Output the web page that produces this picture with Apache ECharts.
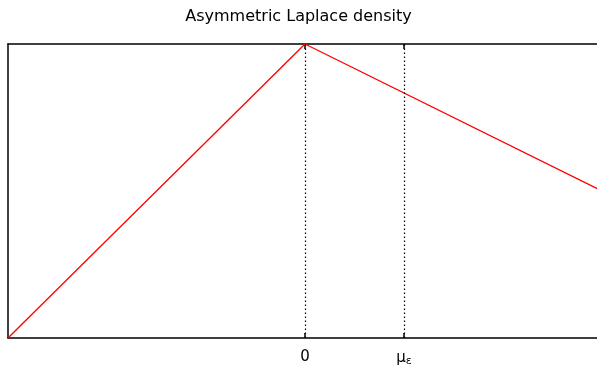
<!DOCTYPE html>
<html><head><meta charset="utf-8">
<script src="https://cdn.jsdelivr.net/npm/echarts@6/dist/echarts.min.js"></script>
<style>html,body{margin:0;padding:0;background:#fff}#c{width:597px;height:368px}</style>
</head><body><div id="c"></div>
<script>
const titleText = 'Asymmetric Laplace density';
const xs = [-3, 0, 3];
const ys = [0, 1, 0.5];
const tickValues = [0, 1];
const tickLabels = ['0', 'μ{s|ε}'];
const dottedAt = [0, 1];

const chart = echarts.init(document.getElementById('c'), null, {renderer: 'canvas'});
const font = '"DejaVu Sans", sans-serif';
const xBase = {
  type: 'value', min: -3, max: 3, interval: 1,
  axisLine: {show: true, onZero: false, lineStyle: {color: '#000', width: 1.5}},
  axisTick: {show: true, inside: true, length: 5, customValues: tickValues, lineStyle: {color: '#000', width: 1.5}},
  splitLine: {show: false}
};
chart.setOption({
  animation: false,
  title: {text: titleText, left: 'center', top: 4,
    textStyle: {fontFamily: font, fontSize: 16, fontWeight: 'normal', color: '#000'}},
  grid: {left: 8, top: 44, width: 594, height: 294, show: false, outerBoundsMode: 'none', containLabel: false},
  xAxis: [
    Object.assign({}, xBase, {position: 'bottom',
      axisLabel: {show: true, customValues: tickValues, margin: 12,
        fontFamily: font, fontSize: 15, color: '#000',
        formatter: v => tickLabels[tickValues.indexOf(v)] || '',
        rich: {s: {fontFamily: font, fontSize: 11, color: '#000', padding: [6, 0, 0, 0]}}}}),
    Object.assign({}, xBase, {position: 'top', axisLabel: {show: false}})
  ],
  yAxis: [{type: 'value', min: 0, max: 1, position: 'left',
    axisLine: {show: true, onZero: false, lineStyle: {color: '#000', width: 1.5}}, axisTick: {show: false},
    axisLabel: {show: false}, splitLine: {show: false}}],
  series: [{
    type: 'line', xAxisIndex: 0, data: xs.map((x, i) => [x, ys[i]]),
    symbol: 'none', lineStyle: {color: '#ff0000', width: 1.3}, z: 3,
    markLine: {silent: true, symbol: 'none', label: {show: false},
      lineStyle: {color: '#000', type: [1.5, 2.5], width: 1.2},
      data: dottedAt.map(v => ({xAxis: v}))}
  }]
});
</script></body></html>
